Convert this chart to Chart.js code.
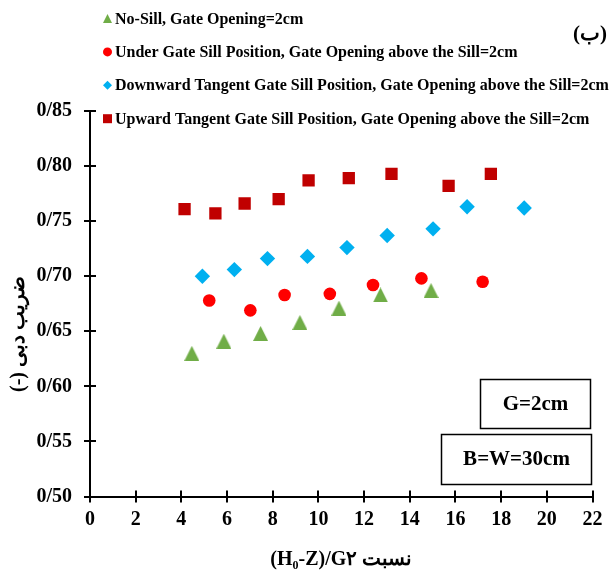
<!DOCTYPE html>
<html>
<head>
<meta charset="utf-8">
<script src="https://cdn.jsdelivr.net/npm/chart.js@4/dist/chart.umd.min.js"></script>
<style>
  html, body { margin: 0; padding: 0; background: #fff; }
  #wrap { width: 609px; height: 572px; position: relative; }
</style>
</head>
<body>
<div id="wrap"><canvas id="chart" width="609" height="572"></canvas></div>
<script>
// Discharge coefficient against the (H0-Z)/G ratio, four gate/sill configurations
const seriesLabels = [
  'No-Sill, Gate Opening=2cm',
  'Under Gate Sill Position, Gate Opening above the Sill=2cm',
  'Downward Tangent Gate Sill Position, Gate Opening above the Sill=2cm',
  'Upward Tangent Gate Sill Position, Gate Opening above the Sill=2cm'
];

const noSillX = [4.46, 5.86, 7.47, 9.19, 10.90, 12.72, 14.93];
const noSillY = [0.630, 0.641, 0.648, 0.658, 0.671, 0.683, 0.687];

const underX = [5.22, 7.02, 8.52, 10.50, 12.39, 14.51, 17.19];
const underY = [0.678, 0.669, 0.683, 0.684, 0.692, 0.698, 0.695];

const downX = [4.92, 6.32, 7.77, 9.52, 11.25, 13.01, 15.02, 16.51, 19.01];
const downY = [0.700, 0.706, 0.716, 0.718, 0.726, 0.737, 0.743, 0.763, 0.762];

const upX = [4.14, 5.49, 6.77, 8.26, 9.57, 11.33, 13.20, 15.70, 17.55];
const upY = [0.761, 0.757, 0.766, 0.770, 0.787, 0.789, 0.793, 0.782, 0.793];

const xTickValues = [0, 2, 4, 6, 8, 10, 12, 14, 16, 18, 20, 22];
const yTickValues = [0.50, 0.55, 0.60, 0.65, 0.70, 0.75, 0.80, 0.85];

const xTitle = '(H\u2080-Z)/G\u06F2 نسبت';
const yTitle = '(-) ضریب دبی';
const panelTag = '(ب)';
const noteGate = 'G=2cm';
const noteWidth = 'B=W=30cm';

const colors = ['#70AD47', '#FF0000', '#00B0F0', '#C00000'];

const pairs = (xs, ys) => xs.map((x, i) => ({ x: x, y: ys[i] }));

// triangle whose box is centred on the point
function triangleImage(size, color) {
  const c = document.createElement('canvas');
  c.width = size; c.height = size;
  const g = c.getContext('2d');
  g.fillStyle = color;
  g.beginPath();
  g.moveTo(size / 2, 0);
  g.lineTo(size, size);
  g.lineTo(0, size);
  g.closePath();
  g.fill();
  return c;
}

const SERIF = '"Liberation Serif", "Times New Roman", serif';

function marker(ctx, kind, x, y, s, color) {
  ctx.fillStyle = color;
  ctx.beginPath();
  if (kind === 'tri') {
    ctx.moveTo(x, y - s / 2); ctx.lineTo(x + s / 2, y + s / 2); ctx.lineTo(x - s / 2, y + s / 2);
  } else if (kind === 'circle') {
    ctx.arc(x, y, s / 2, 0, Math.PI * 2);
  } else if (kind === 'diamond') {
    ctx.moveTo(x, y - s / 2); ctx.lineTo(x + s / 2, y); ctx.lineTo(x, y + s / 2); ctx.lineTo(x - s / 2, y);
  } else {
    ctx.rect(x - s / 2, y - s / 2, s, s);
  }
  ctx.closePath();
  ctx.fill();
}

const decor = {
  id: 'decor',
  afterDraw(chart) {
    const ctx = chart.ctx;
    const xs = chart.scales.x, ys = chart.scales.y;
    const area = chart.chartArea;
    ctx.save();

    // inner halves of the tick marks
    ctx.strokeStyle = '#000';
    ctx.lineWidth = 2;
    ctx.beginPath();
    xs.ticks.forEach(t => {
      const px = Math.round(xs.getPixelForValue(t.value));
      ctx.moveTo(px, area.bottom); ctx.lineTo(px, area.bottom - 6);
    });
    ys.ticks.forEach(t => {
      const py = Math.round(ys.getPixelForValue(t.value));
      ctx.moveTo(area.left, py); ctx.lineTo(area.left + 6, py);
    });
    ctx.stroke();

    // legend
    const kinds = ['tri', 'circle', 'diamond', 'rect'];
    ctx.font = 'bold 16px ' + SERIF;
    ctx.textAlign = 'left';
    ctx.textBaseline = 'middle';
    seriesLabels.forEach((lab, i) => {
      const y = 18.5 + i * 33.4;
      marker(ctx, kinds[i], 107.5, y, 9, colors[i]);
      ctx.fillStyle = '#000';
      ctx.fillText(lab, 115, y + 1);
    });

    // panel tag
    ctx.font = 'bold 21px ' + SERIF;
    ctx.textAlign = 'right';
    ctx.fillText(panelTag, 607, 35);

    // note boxes
    ctx.lineWidth = 1.5;
    ctx.strokeStyle = '#000';
    ctx.strokeRect(480.5, 379.5, 110, 49);
    ctx.strokeRect(441.5, 434.5, 150, 50);
    ctx.font = 'bold 21px ' + SERIF;
    ctx.textAlign = 'center';
    ctx.fillText(noteGate, 535.5, 405);
    ctx.fillText(noteWidth, 516.5, 460);

    // y-axis title
    ctx.translate(19, 334);
    ctx.rotate(-Math.PI / 2);
    ctx.font = 'bold 20px ' + SERIF;
    ctx.textAlign = 'center';
    ctx.textBaseline = 'middle';
    ctx.fillText(yTitle, 0, 0);
    ctx.restore();
  }
};

const common = { showLine: false, pointBorderWidth: 0, pointHoverRadius: 0 };

new Chart(document.getElementById('chart'), {
  type: 'scatter',
  data: {
    datasets: [
      Object.assign({ label: seriesLabels[0], data: pairs(noSillX, noSillY),
        pointStyle: triangleImage(15, colors[0]), backgroundColor: colors[0], borderColor: colors[0] }, common),
      Object.assign({ label: seriesLabels[1], data: pairs(underX, underY),
        pointStyle: 'circle', pointRadius: 6.3, backgroundColor: colors[1], borderColor: colors[1] }, common),
      Object.assign({ label: seriesLabels[2], data: pairs(downX, downY),
        pointStyle: 'rectRot', pointRadius: 7.7, backgroundColor: colors[2], borderColor: colors[2] }, common),
      Object.assign({ label: seriesLabels[3], data: pairs(upX, upY),
        pointStyle: 'rect', pointRadius: 8.7, backgroundColor: colors[3], borderColor: colors[3] }, common)
    ]
  },
  options: {
    responsive: false,
    animation: false,
    events: [],
    layout: { padding: { left: 0, top: 111, right: 16.5, bottom: 0 } },
    plugins: { legend: { display: false }, tooltip: { enabled: false }, title: { display: false } },
    scales: {
      x: {
        type: 'linear', min: 0, max: 22,
        afterBuildTicks: s => { s.ticks = xTickValues.map(v => ({ value: v })); },
        afterFit: s => { s.height = 75.5; },
        border: { color: '#000', width: 2 },
        grid: { drawOnChartArea: false, color: '#000', lineWidth: 2, tickLength: 6 },
        ticks: { color: '#000', padding: 5, font: { family: SERIF, size: 20, weight: 'bold' },
                 callback: v => String(v) },
        title: { display: true, text: xTitle, color: '#000',
                 font: { family: SERIF, size: 20, weight: 'bold' }, padding: { top: 0, bottom: 0 } }
      },
      y: {
        type: 'linear', min: 0.5, max: 0.85,
        afterBuildTicks: s => { s.ticks = yTickValues.map(v => ({ value: v })); },
        afterFit: s => { s.width = 90; },
        border: { color: '#000', width: 2 },
        grid: { drawOnChartArea: false, color: '#000', lineWidth: 2, tickLength: 6 },
        ticks: { color: '#000', padding: 12, font: { family: SERIF, size: 20, weight: 'bold' },
                 callback: v => v.toFixed(2).replace('.', '/') }
      }
    }
  },
  plugins: [decor]
});
</script>
</body>
</html>
